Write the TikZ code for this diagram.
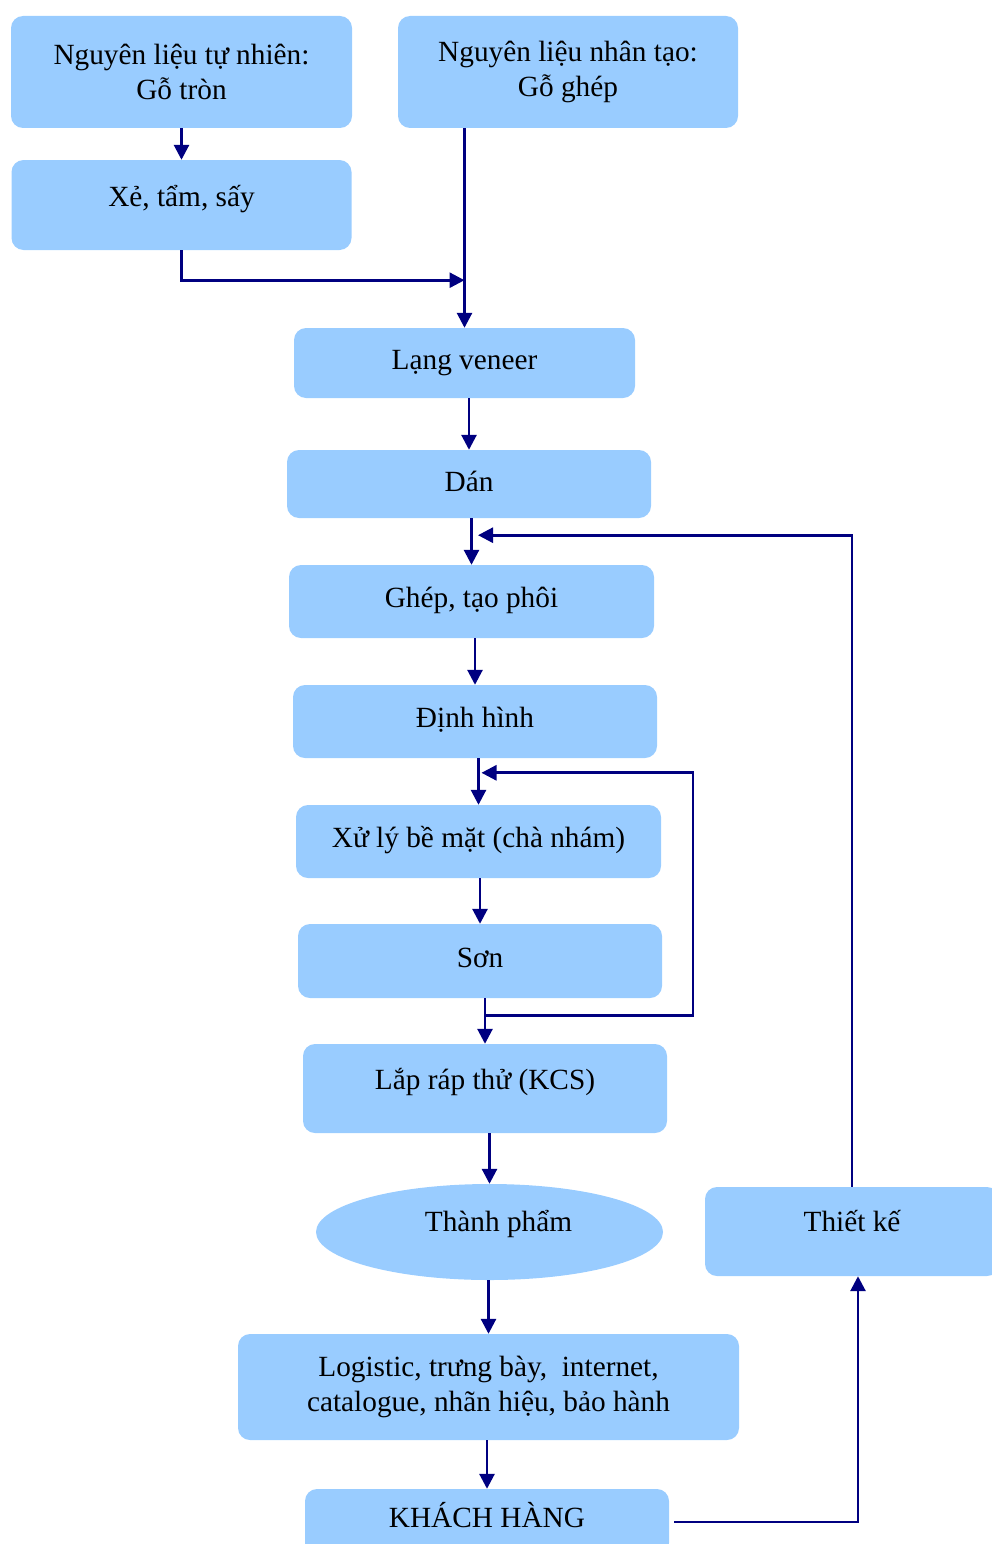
\documentclass[tikz,border=0pt]{standalone}
\usepackage{fontspec}
\setmainfont{Liberation Serif}
\usetikzlibrary{arrows.meta,shapes.geometric,calc}
\definecolor{boxfill}{RGB}{153,204,255}
\definecolor{flowline}{RGB}{0,0,128}

\begin{document}
\begin{tikzpicture}[
    x=1pt, y=-1pt,
    n/.style={fill=boxfill, rounded corners=12pt, align=center, inner sep=0pt,
      font=\fontsize{29.3}{35}\selectfont},
    lift/.style={text height=20pt, text depth=#1},
    flow/.style={-{Triangle[length=15pt,width=15pt]}, line width=2.8pt, flowline}
  ]
  \useasboundingbox (0,0) rectangle (992,1544);
  \clip (0,0) rectangle (992,1544);

  \node[n, minimum width=341pt, minimum height=112pt] (nat) at (181.5,72) {Nguyên liệu tự nhiên:\\Gỗ tròn};
  \node[n, minimum width=340pt, minimum height=112pt] (art) at (568,72) {Nguyên liệu nhân tạo:\\Gỗ ghép};
  \node[n, lift=17pt, minimum width=340pt, minimum height=90pt] (xe) at (181.5,205) {Xẻ, tẩm, sấy};
  \node[n, lift=7pt, minimum width=341pt, minimum height=70pt] (lang) at (464.5,363) {Lạng veneer};
  \node[n, lift=6pt, minimum width=364pt, minimum height=68pt] (dan) at (469,484) {Dán};
  \node[n, lift=8pt, minimum width=365pt, minimum height=73pt] (ghep) at (471.5,601.5) {Ghép, tạo phôi};
  \node[n, lift=8pt, minimum width=364pt, minimum height=73pt] (dinh) at (475,721.5) {Định hình};
  \node[n, lift=8pt, minimum width=365pt, minimum height=73pt] (xuly) at (478.5,841.5) {Xử lý bề mặt (chà nhám)};
  \node[n, lift=8pt, minimum width=364pt, minimum height=74pt] (son) at (480,961) {Sơn};
  \node[n, lift=18pt, minimum width=364pt, minimum height=89pt] (lap) at (485,1088.5) {Lắp ráp thử (KCS)};
  \node[n, ellipse, sharp corners, lift=21pt, minimum width=347pt, minimum height=96pt] (thanh) at (489.5,1232) {\hspace*{18pt}Thành phẩm};
  \node[n, lift=20pt, minimum width=294pt, minimum height=89pt] (tk) at (852,1231.5) {Thiết kế};
  \node[n, minimum width=501pt, minimum height=106pt] (log) at (488.5,1387) {Logistic, trưng bày,\ \ internet,\\catalogue, nhãn hiệu, bảo hành};
  \node[n, lift=9pt, minimum width=364pt, minimum height=66pt] (kh) at (487,1522) {KHÁCH HÀNG};

  % main flow
  \draw[flow] (nat.south) -- (xe.north);
  \coordinate (join) at ($(xe.south)+(0,30)$);
  \draw[flow] (xe.south) |- (join -| lang.north);
  \draw[flow] (art.south -| lang.north) -- (lang.north);
  \draw[flow] (lang.south -| dan.north) -- (dan.north);
  \draw[flow] (dan.south -| ghep.north) -- (ghep.north);
  \draw[flow] (ghep.south -| dinh.north) -- (dinh.north);
  \draw[flow] (dinh.south -| xuly.north) -- (xuly.north);
  \draw[flow] (xuly.south -| son.north) -- (son.north);
  \draw[flow] (son.south -| lap.north) -- (lap.north);
  \draw[flow] (lap.south -| thanh.north) -- (thanh.north);
  \draw[flow] (thanh.south -| log.north) -- (log.north);
  \draw[flow] (log.south -| kh.north) -- (kh.north);

  % feedback loops
  \coordinate (loopin) at ($(xuly.north)+(3,-32)$);
  \coordinate (loopout) at ($(lap.north)+(0,-28)$);
  \draw[flow] (loopout) -- ++(208,0) |- (loopin);
  \coordinate (fbtop) at ($(dan.south)+(9,17)$);
  \draw[flow] (tk.north) |- (fbtop);
  \draw[flow] ([xshift=5pt]kh.east) -| ([xshift=6pt]tk.south);
\end{tikzpicture}
\end{document}
